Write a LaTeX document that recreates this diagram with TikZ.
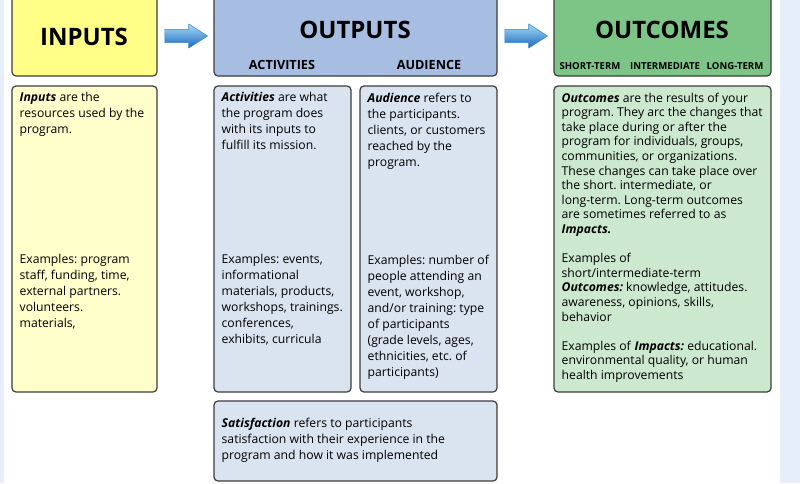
\documentclass[tikz,border=0pt]{standalone}
\usepackage{fontspec}
\setmainfont{Open Sans}
\usetikzlibrary{positioning,fit,shapes.arrows}

\definecolor{edge}{HTML}{3C3C3C}
\definecolor{strip}{HTML}{E6EEF9}
\definecolor{inhead}{HTML}{FFFF88}
\definecolor{inbody}{HTML}{FFFFCC}
\definecolor{outhead}{HTML}{A7BEE2}
\definecolor{outbody}{HTML}{DAE3F0}
\definecolor{ochead}{HTML}{7DC487}
\definecolor{ocbody}{HTML}{CCE8CF}
\definecolor{arrtop}{HTML}{A6DCF9}
\definecolor{arrbot}{HTML}{1A66BA}
\definecolor{arredge}{HTML}{3B85C9}

\begin{document}
\frenchspacing
\begin{tikzpicture}[x=0.75pt,y=-0.75pt,
  box/.style={draw=edge,line width=0.9pt,rounded corners=3pt,inner sep=0pt},
  title/.style={font=\fontsize{18}{18}\selectfont\bfseries},
  subtitle/.style={font=\fontsize{9.5}{10}\selectfont\bfseries},
  tinytitle/.style={font=\fontsize{7.2}{8}\selectfont\bfseries},
  body/.style={anchor=north west,align=left,inner sep=0pt,font=\fontsize{9.15}{12}\selectfont},
  blockarrow/.style={single arrow,single arrow head extend=4pt,
    single arrow tip angle=65,inner sep=4.8pt,minimum height=32pt,
    top color=arrtop,bottom color=arrbot,draw=arredge,line width=0.4pt}]

% page
\useasboundingbox (0,0) rectangle (800,483);
\fill[white] (0,0) rectangle (800,483);
\fill[strip] (0,0) rectangle (4,483);
\fill[strip] (780,0) rectangle (800,483);
\clip (0,0) rectangle (800,483);

% header boxes
\node[box,fill=inhead,fit={(12,-6) (157,76)}] (inhd) {};
\node[box,fill=outhead,fit={(214,-6) (497,76)}] (outhd) {};
\node[box,fill=ochead,fit={(554,-6) (771,76)}] (ochd) {};

\node[title] (intitle) at (84,37) {INPUTS};
\node[title] (outtitle) at (355,30) {OUTPUTS};
\node[title] (octitle) at (662,30) {OUTCOMES};

\node[subtitle] (acthd) at (282,65) {ACTIVITIES};
\node[subtitle] (audhd) at (429,65) {AUDIENCE};
\node[tinytitle] (shorthd) at (590,66) {SHORT-TERM};
\node[tinytitle] (midhd) at (665,66) {INTERMEDIATE};
\node[tinytitle] (longhd) at (735,66) {LONG-TERM};

% block arrows between the headers
\node[blockarrow] (arr1) at (181,36) {};
\node[blockarrow] (arr2) at (521,36) {};

% inputs
\node[box,fill=inbody,fit={(12,86) (157,392)}] (inbox) {};
\node[body] (indef) at ([shift={(8,7)}]inbox.north west)
  {\textbf{\textit{Inputs}} are the\\resources used by the\\program.};
\node[body] (inex) at ([shift={(8,169)}]inbox.north west)
  {Examples: program\\staff, funding, time,\\external partners.\\volunteers.\\materials,};

% activities
\node[box,fill=outbody,fit={(214,86) (351,392)}] (actbox) {};
\node[body] (actdef) at ([shift={(8,7)}]actbox.north west)
  {\textbf{\textit{Activities}} are what\\the program does\\with its inputs to\\fulfill its mission.};
\node[body] (actex) at ([shift={(8,169)}]actbox.north west)
  {Examples: events,\\informational\\materials, products,\\workshops, trainings.\\conferences,\\exhibits, curricula};

% audience
\node[box,fill=outbody,fit={(360,86) (497,392)}] (audbox) {};
\node[body] (auddef) at ([shift={(8,7)}]audbox.north west)
  {\textbf{\textit{Audience}} refers to\\the participants.\\clients, or customers\\reached by the\\program.};
\node[body] (audex) at ([shift={(8,169)}]audbox.north west)
  {Examples: number of\\people attending an\\event, workshop,\\and/or training: type\\of participants\\(grade levels, ages,\\ethnicities, etc. of\\participants)};

% satisfaction
\node[box,fill=outbody,fit={(214,401) (497,481)}] (satbox) {};
\node[body] (satdef) at ([shift={(8,17)}]satbox.north west)
  {\textbf{\textit{Satisfaction}} refers to participants\\satisfaction with their experience in the\\program and how it was implemented};

% outcomes
\node[box,fill=ocbody,fit={(554,86) (771,392)}] (ocbox) {};
\node[body,font=\fontsize{9.15}{10.95}\selectfont] (ocdef) at ([shift={(8,7)}]ocbox.north west)
  {\textbf{\textit{Outcomes}} are the results of your\\program. They arc the changes that\\take place during or after the\\program for individuals, groups,\\communities, or organizations.\\These changes can take place over\\the short. intermediate, or\\long-term. Long-term outcomes\\are sometimes referred to as\\\textbf{\textit{Impacts.}}\\[10.95pt]
  Examples of\\short/intermediate-term\\\textbf{\textit{Outcomes:}} knowledge, attitudes.\\awareness, opinions, skills,\\behavior\\[10.95pt]
  Examples of \textbf{\textit{Impacts:}} educational.\\environmental quality, or human\\health improvements};

\end{tikzpicture}
\end{document}
